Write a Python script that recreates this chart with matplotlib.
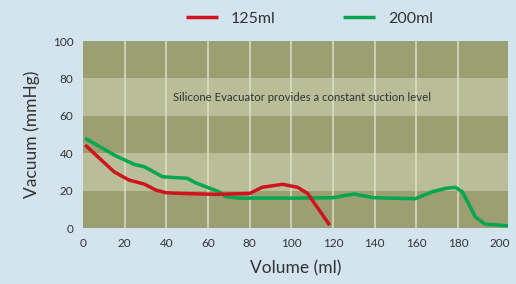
import matplotlib
matplotlib.use("Agg")
from matplotlib import pyplot as plt

plt.rcParams['font.family'] = ['Lato', 'DejaVu Sans']

# data
vol_125 = [1, 15, 22, 29.4, 35, 39.8, 47, 64.5, 80, 86, 95.8, 103, 107.8, 113.4, 118.4]
vac_125 = [44.4, 30, 25.7, 23.5, 20.3, 18.9, 18.5, 18, 18.5, 21.8, 23.4, 21.8, 18.5, 9.6, 1.5]

vol_200 = [1, 15, 24.6, 29.4, 38.2, 50, 54, 65.3, 68.6, 75, 100, 119.7, 130, 139.7,
           159.6, 167.6, 174, 178.7, 182, 185, 188.3, 193, 204]
vac_200 = [48, 39, 34, 32.8, 27.4, 26.6, 24.2, 19.4, 16.8, 16, 16, 16.2, 18.2, 16.2,
           15.7, 19.4, 21.2, 21.8, 19.4, 13.2, 6, 2.1, 1.2]

x_ticks = [0, 20, 40, 60, 80, 100, 120, 140, 160, 180, 200]
y_ticks = [0, 20, 40, 60, 80, 100]

bg = '#d3e4ee'
dark = '#9c9f71'
light = '#b9be98'
txt = '#333333'

fig = plt.figure(figsize=(5.16, 2.84), dpi=100, facecolor=bg)
ax = fig.add_axes([0.1609, 0.197, 0.8236, 0.6586])
ax.set_facecolor(dark)

# horizontal bands
for lo in (20, 60):
    ax.axhspan(lo, lo + 20, color=light, zorder=0, lw=0)
for x in x_ticks[1:-1]:
    ax.axvline(x, color='#dfe2c8', lw=1.3, alpha=0.8, zorder=1)

ax.plot(vol_125, vac_125, color='#d0141f', lw=2.5, label='125ml', zorder=3,
        solid_capstyle='butt')
ax.plot(vol_200, vac_200, color='#00a650', lw=2.5, label='200ml', zorder=2,
        solid_capstyle='butt')

ax.text(105, 70, 'Silicone Evacuator provides a constant suction level',
        ha='center', va='center', fontsize=8.2, color=txt)

ax.set_xlim(0, 204)
ax.set_ylim(0, 100)
ax.set_xticks(x_ticks)
ax.set_yticks(y_ticks)
ax.tick_params(length=0, labelsize=8.5, colors=txt, pad=7)
for s in ax.spines.values():
    s.set_visible(False)

ax.set_xlabel('Volume (ml)', fontsize=12.5, color=txt, labelpad=8)
ax.set_ylabel('Vacuum (mmHg)', fontsize=12.5, color=txt, labelpad=9)

fig.legend(loc='center', bbox_to_anchor=(0.6, 0.935), ncol=2, frameon=False,
           fontsize=11.5, handlelength=2.0, columnspacing=4.2, labelcolor=txt)

fig.savefig('out.png', dpi=100, facecolor=bg)
